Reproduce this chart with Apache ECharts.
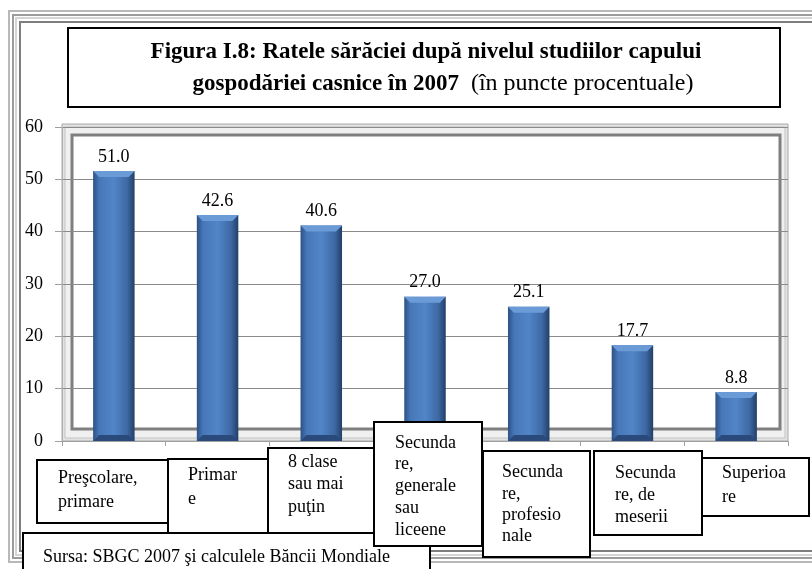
<!DOCTYPE html>
<html>
<head>
<meta charset="utf-8">
<script src="https://cdn.jsdelivr.net/npm/echarts@6/dist/echarts.min.js"></script>
<style>
  html, body { margin: 0; padding: 0; background: #fff; }
  #chart { width: 812px; height: 569px; }
</style>
</head>
<body>
<div id="chart"></div>
<script>
// date din grafic
const categories = [
  'Preşcolare,\nprimare',
  'Primar\ne',
  '8 clase\nsau mai\npuţin',
  'Secunda\nre,\ngenerale\nsau\nliceene',
  'Secunda\nre,\nprofesio\nnale',
  'Secunda\nre, de\nmeserii',
  'Superioa\nre'
]
const rates = [51.0, 42.6, 40.6, 27.0, 25.1, 17.7, 8.8]
const titleLine1 = 'Figura I.8: Ratele sărăciei după nivelul studiilor capului'
const titleLine2 = 'gospodăriei casnice în 2007'
const titleUnit = '  (în puncte procentuale)'
const sourceText = 'Sursa: SBGC 2007 şi calculele Băncii Mondiale'

// casetele etichetelor (pozitii din imagine)
const labelBoxes = [
  { x: 37, y: 460, w: 131, h: 63, tx: 58, ty: 466, lh: 24 },
  { x: 168, y: 459, w: 100, h: 74, tx: 188, ty: 463, lh: 24 },
  { x: 268, y: 448, w: 107, h: 85, tx: 288, ty: 451, lh: 22.5 },
  { x: 374, y: 422, w: 108, h: 124, tx: 395, ty: 432, lh: 21.8 },
  { x: 483, y: 451, w: 107, h: 106, tx: 502, ty: 462, lh: 21.3 },
  { x: 594, y: 451, w: 108, h: 84, tx: 615, ty: 462, lh: 22 },
  { x: 702, y: 458, w: 107, h: 58, tx: 722, ty: 461, lh: 24 }
]

const FONT = '"Liberation Serif", "Times New Roman", serif'
const GRID = { left: 62, right: 24, top: 127, bottom: 128 }

const chart = echarts.init(document.getElementById('chart'))

// bara 3D (fata, tesitura sus, tesitura jos)
const renderBar = (params, api) => {
  const val = api.value(1)
  const topPt = api.coord([api.value(0), val])
  const basePt = api.coord([api.value(0), 0])
  const bw = api.size([1, 0])[0] * 0.4
  const left = topPt[0] - bw / 2
  const top = topPt[1] - 3
  const bottom = basePt[1]
  const b = 6
  return {
    type: 'group',
    children: [
      {
        type: 'rect',
        shape: { x: left, y: top, width: bw, height: bottom - top },
        style: {
          fill: new echarts.graphic.LinearGradient(0, 0, 1, 0, [
            { offset: 0, color: '#2c5186' },
            { offset: 0.15, color: '#4777b8' },
            { offset: 0.5, color: '#5185c8' },
            { offset: 0.82, color: '#3e69a4' },
            { offset: 1, color: '#223f68' }
          ])
        }
      },
      {
        type: 'polygon',
        shape: { points: [[left, top], [left + bw, top], [left + bw - b, top + b], [left + b, top + b]] },
        style: { fill: '#6b9bd7' }
      },
      {
        type: 'polygon',
        shape: { points: [[left + b, bottom - b], [left + bw - b, bottom - b], [left + bw, bottom], [left, bottom]] },
        style: { fill: '#294a7a' }
      },
      {
        type: 'text',
        style: {
          text: val.toFixed(1),
          x: topPt[0],
          y: top - 5,
          align: 'center',
          verticalAlign: 'bottom',
          font: '18px ' + FONT,
          fill: '#000'
        }
      }
    ]
  }
}

// cadrul paginii si peretii graficului
const plotL = GRID.left
const plotT = 124
const plotR = 812 - GRID.right
const plotB = 569 - GRID.bottom

const graphics = [
  // rama exterioara
  { type: 'rect', z: -5, shape: { x: 9, y: 11, width: 900, height: 551 }, style: { fill: null, stroke: '#b8b8b8', lineWidth: 2 } },
  { type: 'rect', z: -5, shape: { x: 13, y: 15, width: 900, height: 543 }, style: { fill: null, stroke: '#9c9c9c', lineWidth: 2 } },
  { type: 'rect', z: -5, shape: { x: 16, y: 18, width: 900, height: 537 }, style: { fill: null, stroke: '#d4d4d4', lineWidth: 2 } },
  { type: 'rect', z: -5, shape: { x: 20, y: 22, width: 900, height: 529 }, style: { fill: null, stroke: '#7e7e7e', lineWidth: 2 } },
  // peretii 3D
  { type: 'rect', z: -3, shape: { x: plotL, y: plotT, width: plotR - plotL, height: plotB - plotT }, style: { fill: '#e2e2e2', stroke: '#a8a8a8', lineWidth: 1 } },
  { type: 'rect', z: -3, shape: { x: plotL + 3, y: plotT + 3, width: plotR - plotL - 6, height: plotB - plotT - 6 }, style: { fill: '#f0f0f0', stroke: '#c4c4c4', lineWidth: 1 } },
  { type: 'rect', z: -2, shape: { x: plotL + 10, y: plotT + 11, width: plotR - plotL - 18, height: plotB - plotT - 23 }, style: { fill: '#fff', stroke: '#7f7f7f', lineWidth: 3 } },
  // caseta titlului
  { type: 'rect', z: 5, shape: { x: 68, y: 28, width: 712, height: 79 }, style: { fill: '#fff', stroke: '#000', lineWidth: 2 } },
  {
    type: 'text',
    z: 6,
    style: {
      x: 426,
      y: 52,
      align: 'center',
      verticalAlign: 'middle',
      text: titleLine1,
      font: 'bold 23px ' + FONT,
      fill: '#000'
    }
  },
  {
    type: 'text',
    z: 6,
    style: {
      x: 443,
      y: 84,
      align: 'center',
      verticalAlign: 'middle',
      text: '{b|' + titleLine2 + '}{n|' + titleUnit + '}',
      rich: {
        b: { fontFamily: FONT, fontSize: 23, fontWeight: 'bold', fill: '#000' },
        n: { fontFamily: FONT, fontSize: 24, fill: '#000' }
      }
    }
  },
  // sursa
  { type: 'rect', z: 8, shape: { x: 23, y: 533, width: 407, height: 45 }, style: { fill: '#fff', stroke: '#000', lineWidth: 2 } },
  { type: 'text', z: 9, style: { x: 43, y: 557, text: sourceText, verticalAlign: 'middle', font: '18px ' + FONT, fill: '#000' } }
]

// casetele cu etichetele categoriilor
labelBoxes.forEach((bx, i) => {
  graphics.push({ type: 'rect', z: 10 + i, shape: { x: bx.x, y: bx.y, width: bx.w, height: bx.h }, style: { fill: '#fff', stroke: '#000', lineWidth: 2 } })
  graphics.push({ type: 'text', z: 10 + i, style: { x: bx.tx, y: bx.ty, text: categories[i], font: '18px ' + FONT, lineHeight: bx.lh, verticalAlign: 'top', fill: '#000' } })
})

chart.setOption({
  animation: false,
  grid: GRID,
  xAxis: {
    type: 'category',
    data: categories,
    axisLine: { show: true, lineStyle: { color: '#a0a0a0', width: 1 } },
    axisTick: { show: true, length: 5, lineStyle: { color: '#a0a0a0' } },
    axisLabel: { show: false },
    splitLine: { show: false }
  },
  yAxis: {
    type: 'value',
    min: 0,
    max: 60,
    interval: 10,
    axisLine: { show: true, lineStyle: { color: '#b0b0b0' } },
    axisTick: { show: true, length: 7, lineStyle: { color: '#a0a0a0' } },
    axisLabel: { margin: 19, fontFamily: FONT, fontSize: 18, color: '#000' },
    splitLine: { show: true, lineStyle: { color: '#8a8a8a', width: 1 } }
  },
  series: [
    {
      type: 'custom',
      renderItem: renderBar,
      data: rates.map((v, i) => [i, v]),
      encode: { x: 0, y: 1 },
      z: 3
    }
  ],
  graphic: graphics
})

window.addEventListener('resize', () => chart.resize())
</script>
</body>
</html>
